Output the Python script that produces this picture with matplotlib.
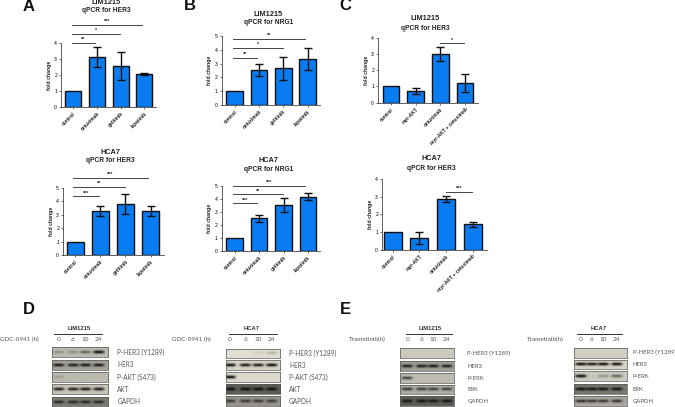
import numpy as np
import matplotlib
matplotlib.use("Agg")
from matplotlib import pyplot as plt

W, H = 675, 407
plt.rcParams['font.family'] = ['Liberation Sans', 'DejaVu Sans']

# bar data
drugs = ['control', 'cetuximab', 'gefitinib', 'lapatinib']
akt_groups = ['control', 'myr-AKT', 'cetuximab', 'myr-AKT + cetuximab']

a_top_vals = [1, 3.12, 2.57, 2.06]
a_top_err = [0, 0.64, 0.87, 0.07]
a_bot_vals = [1, 3.29, 3.81, 3.29]
a_bot_err = [0, 0.37, 0.75, 0.36]
b_top_vals = [1, 2.54, 2.66, 3.33]
b_top_err = [0, 0.45, 0.82, 0.78]
b_bot_vals = [1, 2.5, 3.56, 4.18]
b_bot_err = [0, 0.25, 0.55, 0.28]
c_top_vals = [1, 0.72, 3.0, 1.23]
c_top_err = [0, 0.2, 0.41, 0.55]
c_bot_vals = [1, 0.64, 2.85, 1.43]
c_bot_err = [0, 0.34, 0.17, 0.13]

# significance brackets: start, end, level, stars
a_top_sig = [(-0.05, 0.93, 4.04, '**'), (-0.05, 1.98, 4.61, '*'), (-0.05, 2.9, 5.14, '***')]
a_bot_sig = [(-0.07, 0.95, 4.36, '***'), (-0.07, 1.98, 5.07, '**'), (-0.07, 2.88, 5.74, '***')]
b_top_sig = [(-0.05, 0.93, 3.43, '**'), (-0.05, 1.98, 4.15, '*'), (-0.05, 2.9, 4.81, '**')]
b_bot_sig = [(-0.05, 0.93, 3.66, '***'), (-0.05, 1.98, 4.36, '**'), (-0.05, 2.9, 5.0, '***')]
c_top_sig = [(2.0, 2.97, 3.65, '*')]
c_bot_sig = [(2.0, 2.96, 3.28, '***')]

# blot data: band strength per lane (0, 6, 10, 24 h)
d_lim_bands = [[.25, .25, .5, 1], [.95, .9, .95, .95], [.15, 0, 0, 0], [.9, .9, .95, .95], [.8, .8, .8, .8]]
d_hca_bands = [[0, 0, .08, .2], [1, .95, .95, 1], [1, 0, 0, 0], [1, 1, 1, 1], [.7, .7, .7, .7]]
e_lim_bands = [[0, 0, 0, 0], [.9, .9, .9, .9], [.7, 0, 0, 0], [.75, .7, .7, .7], [.9, .9, .9, .9]]
e_hca_bands = [[0, 0, 0, 0], [1, .95, 1, 1], [1, .05, .3, .55], [.95, .95, .95, .95], [.8, .75, .75, .75]]

d_lim_bg = [190, 165, 188, 200, 125]
d_hca_bg = [225, 215, 220, 95, 150]
e_lim_bg = [205, 160, 190, 175, 95]
e_hca_bg = [210, 215, 205, 120, 170]

d_labels = ['P-HER3 (Y1289)', 'HER3', 'P-AKT (S473)', 'AKT', 'GAPDH']
e_labels = ['P-HER3 (Y1289)', 'HER3', 'P-ERK', 'ERK', 'GAPDH']
hours = ['0', '6', '10', '24']

fig = plt.figure(figsize=(W / 100, H / 100), dpi=100, facecolor='white')


def px_axes(x0, ytop, x1, ybot):
    return fig.add_axes([x0 / W, 1 - ybot / H, (x1 - x0) / W, (ybot - ytop) / H])


def txt(x, y, s, **kw):
    kw.setdefault('ha', 'center')
    kw.setdefault('va', 'center')
    fig.text(x / W, 1 - y / H, s, **kw)


def bar_panel(box, c0, step, bw, ymax, names, vals, errs, sig):
    x0, ytop, x1, ybot = box
    ax = px_axes(x0, ytop, x1, ybot)
    pos = np.arange(len(vals))
    ax.bar(pos, vals, width=bw / step, color='#0a7cf2', edgecolor='#101010', linewidth=1.0, zorder=2)
    for p, v, e in zip(pos, vals, errs):
        if e > 0:
            ax.errorbar(p, v, yerr=e, color='#101010', elinewidth=1.0, capsize=3.2, capthick=1.0, zorder=3)
    ax.set_xlim((x0 - c0) / step, (x1 - c0) / step)
    ax.set_ylim(0, ymax)
    ax.set_yticks(range(ymax + 1))
    ax.set_xticks(pos)
    ax.set_xticklabels(names, rotation=45, ha='right', rotation_mode='anchor', fontsize=3.5, fontweight='bold', color='#222222')
    ax.tick_params(axis='both', length=1.6, width=0.5, pad=1.5, color='#333333')
    ax.tick_params(axis='y', labelsize=3.6)
    ax.set_ylabel('fold change', fontsize=3.7, fontweight='bold', labelpad=1.5, color='#222222')
    for s in ['top', 'right']:
        ax.spines[s].set_visible(False)
    for s in ['left', 'bottom']:
        ax.spines[s].set_linewidth(0.6)
        ax.spines[s].set_color('#444444')
    ax.patch.set_alpha(0)
    for a, b, lvl, stars in sig:
        ax.plot([a, b], [lvl, lvl], color='#444444', lw=0.7, clip_on=False, zorder=4)
        ax.annotate(stars, ((a + b) / 2, lvl), xytext=(0, 0.6), textcoords='offset points',
                    ha='center', va='bottom', fontsize=4, fontweight='bold', color='#333333', annotation_clip=False)
    return ax


bar_panel((61.3, 43.3, 156, 106.7), 73, 23.8, 16, 4, drugs, a_top_vals, a_top_err, a_top_sig)
bar_panel((63.3, 187.7, 164, 255), 75, 25.2, 17, 5, drugs, a_bot_vals, a_bot_err, a_bot_sig)
bar_panel((221.7, 36, 320, 105), 234.7, 24.3, 16.7, 5, drugs, b_top_vals, b_top_err, b_top_sig)
bar_panel((221.7, 186, 320, 250.7), 234.7, 24.4, 16.7, 5, drugs, b_bot_vals, b_bot_err, b_bot_sig)
bar_panel((378.3, 37.7, 477.7, 102.7), 391, 24.7, 16.7, 4, akt_groups, c_top_vals, c_top_err, c_top_sig)
bar_panel((382.3, 179, 486.7, 249.7), 392.7, 26.7, 18, 4, akt_groups, c_bot_vals, c_bot_err, c_bot_sig)

# panel letters
for x, y, s in [(29, 6.7, 'A'), (190, 6, 'B'), (345.7, 6, 'C'), (29, 309.5, 'D'), (345.7, 309.5, 'E')]:
    txt(x, y, s, fontsize=12, fontweight='bold', color='#111111')

# chart titles
for x, y1, y2, a, b in [(106, 2.7, 10.3, 'LIM1215', 'qPCR for HER3'),
                        (110.5, 152.5, 161, 'HCA7', 'qPCR for HER3'),
                        (268.5, 14.5, 23, 'LIM1215', 'qPCR for NRG1'),
                        (268.5, 161, 169.5, 'HCA7', 'qPCR for NRG1'),
                        (425.5, 19, 28, 'LIM1215', 'qPCR for HER3'),
                        (431, 158.5, 168, 'HCA7', 'qPCR for HER3')]:
    txt(x, y1, a, fontsize=5.3, fontweight='bold', color='#222222')
    txt(x, y2, b, fontsize=4.8, fontweight='bold', color='#222222')


def blot(x0, x1, rows, lanes, bands, bgs, labels, lab_x, lab_size):
    yy = np.linspace(-1, 1, 30)
    xx = np.linspace(x0, x1, 170)
    for (ytop, ybot), lane_row, bg, lab in zip(rows, bands, bgs, labels):
        img = np.full((30, 170), float(bg))
        for lane, s in zip(lanes, lane_row):
            band = np.exp(-((xx - lane) / 5.5) ** 4)[None, :] * np.exp(-(yy / 0.32) ** 2)[:, None]
            img -= s * (bg - 15) * band
        tint = np.dstack([img, img * 0.985, img * 0.93]) / 255
        ax = px_axes(x0, ytop, x1, ybot)
        ax.imshow(np.clip(tint, 0, 1), aspect='auto', interpolation='bilinear')
        ax.set_xticks([])
        ax.set_yticks([])
        for s in ax.spines.values():
            s.set_linewidth(0.5)
            s.set_color('#555555')
        txt(lab_x, (ytop + ybot) / 2, lab, ha='left', fontsize=lab_size, family='Lato', color='#555555')


def blot_head(name, name_x, line0, line1, lanes, agent, agent_x, name_y=328.3):
    txt(name_x, name_y, name, fontsize=4.2, fontweight='bold', color='#333333')
    fig.add_artist(plt.Line2D([line0 / W, line1 / W], [1 - 334 / H, 1 - 334 / H], color='#333333', lw=0.7))
    for lane, h in zip(lanes, hours):
        txt(lane, 339.5, h, fontsize=4.6, family='Lato', color='#555555')
    txt(agent_x, 339.8, agent, ha='left', fontsize=4.5, family='Lato', color='#555555')


rows_dl = [(347, 357), (359.7, 369.7), (372.3, 382.3), (384, 394), (396.7, 406.7)]
rows_dr = [(349, 358.3), (360.3, 369.7), (372.3, 382.3), (384, 394), (396, 406)]
rows_el = [(348.3, 358.3), (361, 371), (373, 383), (385, 394.3), (396.3, 406.3)]
rows_er = [(347.7, 357.7), (359.7, 369), (371, 381), (384.3, 394.3), (396.3, 406.3)]

lanes_dl = [58.3, 72.7, 85, 98.3]
lanes_dr = [230, 245, 257.7, 271]
lanes_el = [407.3, 421.7, 433.3, 446.7]
lanes_er = [581, 592, 603.3, 616.7]

blot(51.7, 108.3, rows_dl, lanes_dl, d_lim_bands, d_lim_bg, d_labels, 117.3, 4.7)
blot(226, 280, rows_dr, lanes_dr, d_hca_bands, d_hca_bg, d_labels, 289, 4.7)
blot(400.3, 453.7, rows_el, lanes_el, e_lim_bands, e_lim_bg, e_labels, 467.3, 4.3)
blot(574.3, 626.7, rows_er, lanes_er, e_hca_bands, e_hca_bg, e_labels, 632.7, 4.3)

blot_head('LIM1215', 79.3, 54.3, 101.7, lanes_dl, 'GDC-0941 (h)', 0.5)
blot_head('HCA7', 251.7, 229.3, 276.7, lanes_dr, 'GDC-0941 (h)', 171.7)
blot_head('LIM1215', 430, 405.7, 452.3, lanes_el, 'Trametinib(h)', 349)
blot_head('HCA7', 598.3, 576.7, 621.7, lanes_er, 'Trametinib(h)', 526.7)

fig.savefig('out.png', dpi=100)
